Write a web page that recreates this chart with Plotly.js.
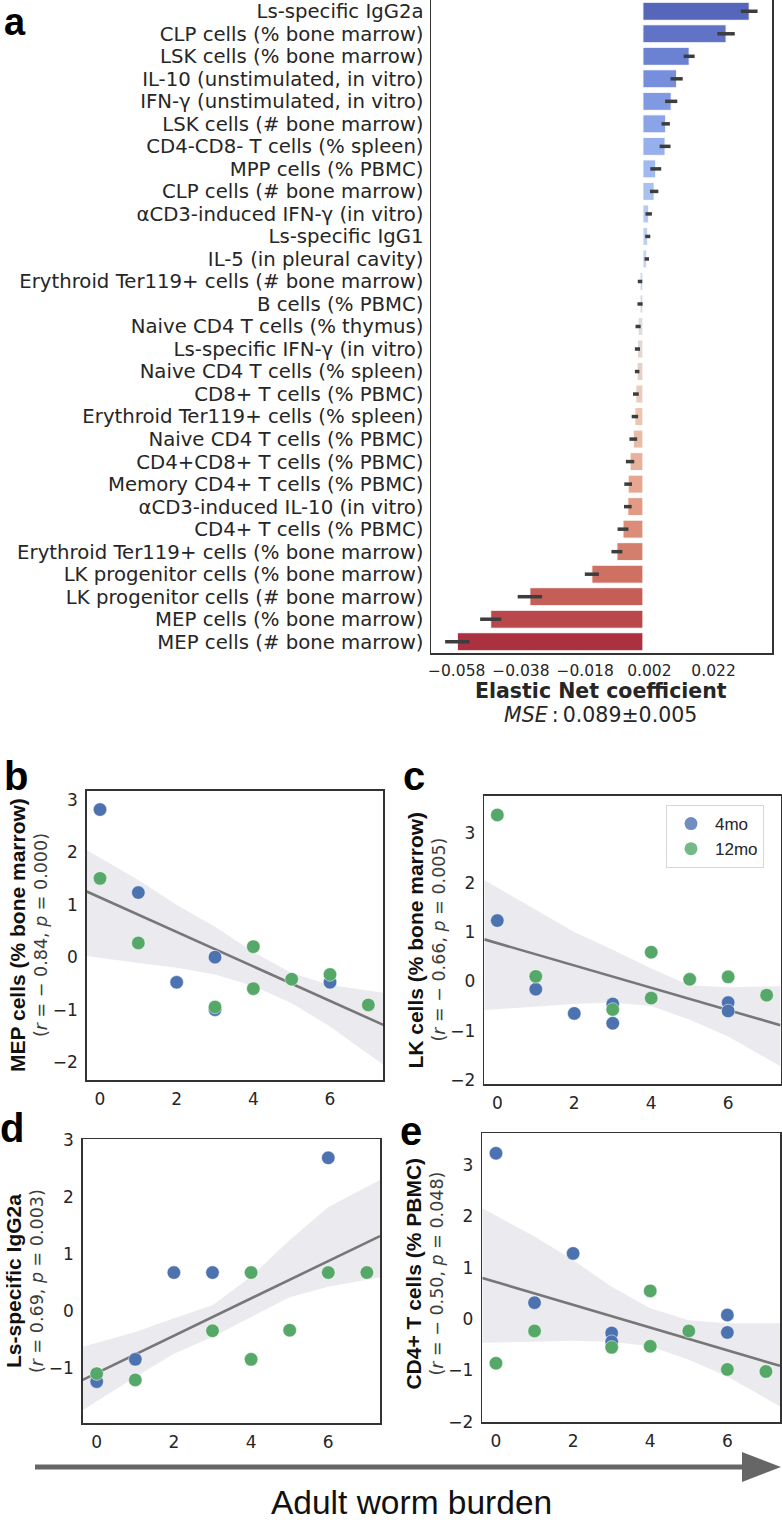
<!DOCTYPE html>
<html><head><meta charset="utf-8">
<script src="https://cdn.plot.ly/plotly-3.0.1.min.js"></script>
<style>html,body{margin:0;padding:0;background:#fff}</style>
</head><body><div id="chart" style="width:782px;height:1522px"></div>
<script>
// ---------- DATA ----------
const features = [
  "Ls-specific IgG2a","CLP cells (% bone marrow)","LSK cells (% bone marrow)",
  "IL-10 (unstimulated, in vitro)","IFN-γ (unstimulated, in vitro)","LSK cells (# bone marrow)",
  "CD4-CD8- T cells (% spleen)","MPP cells (% PBMC)","CLP cells (# bone marrow)",
  "αCD3-induced IFN-γ (in vitro)","Ls-specific IgG1","IL-5 (in pleural cavity)",
  "Erythroid Ter119+ cells (# bone marrow)","B cells (% PBMC)","Naive CD4 T cells (% thymus)",
  "Ls-specific IFN-γ (in vitro)","Naive CD4 T cells (% spleen)","CD8+ T cells (% PBMC)",
  "Erythroid Ter119+ cells (% spleen)","Naive CD4 T cells (% PBMC)","CD4+CD8+ T cells (% PBMC)",
  "Memory CD4+ T cells (% PBMC)","αCD3-induced IL-10 (in vitro)","CD4+ T cells (% PBMC)",
  "Erythroid Ter119+ cells (% bone marrow)","LK progenitor cells (% bone marrow)",
  "LK progenitor cells (# bone marrow)","MEP cells (% bone marrow)","MEP cells (# bone marrow)"
];
const coefficients = [
  0.0331,0.0259,0.0144,0.0105,0.0088,0.0071,0.0069,0.0040,0.0035,0.0018,0.0015,0.0012,
  -0.0009,-0.0009,-0.0015,-0.0017,-0.0018,-0.0022,-0.0025,-0.0030,-0.0040,-0.0046,-0.0047,
  -0.0062,-0.0081,-0.0159,-0.0352,-0.0474,-0.0578
];
const coefErrors = [
  0.0026,0.0027,0.0017,0.0019,0.0019,0.0013,0.0017,0.0017,0.0013,0.0010,0.0008,0.0007,
  0.0007,0.0008,0.0008,0.0008,0.0007,0.0009,0.0010,0.0012,0.0013,0.0012,0.0012,
  0.0017,0.0017,0.0022,0.0038,0.0033,0.0038
];
const coefTicks = [-0.058,-0.038,-0.018,0.002,0.022];
const coefTickText = ["−0.058","−0.038","−0.018","0.002","0.022"];

// panel b : MEP cells (% bone marrow)
const bX4 = [0,1,2,3,3,6];
const bY4 = [2.81,1.23,-0.48,0.0,-1.0,-0.48];
const bX12 = [0,1,3,4,4,5,6,7];
const bY12 = [1.50,0.27,-0.95,0.20,-0.60,-0.42,-0.33,-0.91];
const bLineX = [-0.347,7.39];
const bLineY = [1.25,-1.29];
const bBandX = [-0.347,1,2,3,4,5,6,7.39];
const bBandUp = [2.04,1.47,1.0,0.58,0.10,-0.30,-0.53,-0.68];
const bBandLo = [0.02,-0.11,-0.20,-0.33,-0.55,-0.88,-1.32,-2.05];

// panel c : LK cells (% bone marrow)
const cX4 = [0,1,2,3,3,6,6];
const cY4 = [1.23,-0.16,-0.65,-0.46,-0.85,-0.43,-0.60];
const cX12 = [0,1,3,4,4,5,6,7];
const cY12 = [3.37,0.10,-0.57,0.59,-0.34,0.04,0.09,-0.28];
const cLineX = [-0.338,7.36];
const cLineY = [0.85,-0.89];
const cBandX = [-0.338,1,2,3,4,5,6,7.36];
const cBandUp = [2.05,1.44,1.0,0.64,0.26,-0.08,-0.12,-0.10];
const cBandLo = [-0.58,-0.51,-0.46,-0.43,-0.50,-0.78,-1.12,-1.72];

// panel d : Ls-specific IgG2a
const dX4 = [0,1,2,3,6];
const dY4 = [-1.23,-0.84,0.68,0.68,2.69];
const dX12 = [0,1,3,4,4,5,6,7];
const dY12 = [-1.09,-1.20,-0.34,0.68,-0.84,-0.33,0.68,0.68];
const dLineX = [-0.363,7.34];
const dLineY = [-1.20,1.32];
const dBandX = [-0.363,1,2,3,4,5,6,7.34];
const dBandUp = [-0.62,-0.36,-0.12,0.11,0.61,1.25,1.83,2.30];
const dBandLo = [-1.73,-1.15,-0.74,-0.45,-0.10,0.25,0.43,0.60];

// panel e : CD4+ T cells (% PBMC)
const eX4 = [0,1,2,3,3,6,6];
const eY4 = [3.23,0.32,1.28,-0.27,-0.44,0.08,-0.26];
const eX12 = [0,1,3,4,4,5,6,7];
const eY12 = [-0.86,-0.23,-0.55,0.55,-0.53,-0.23,-0.98,-1.02];
const eLineX = [-0.355,7.365];
const eLineY = [0.80,-0.91];
const eBandX = [-0.355,1,2,3,4,5,6,7.365];
const eBandUp = [2.16,1.61,1.15,0.63,0.21,-0.02,-0.08,-0.08];
const eBandLo = [-0.46,-0.44,-0.42,-0.44,-0.53,-0.79,-1.12,-1.70];

const scatterXTicks = [0,2,4,6];
const scatterYTicks = [-2,-1,0,1,2,3];
const scatterYTickText = ["−2","−1","0","1","2","3"];
const groupNames = ["4mo","12mo"];

// ---------- STYLE / LAYOUT HELPERS ----------
const W = 782, H = 1522;
const px = x => x / W;
const py = y => 1 - y / H;
const DV = "DejaVu Sans";
const LS = "Liberation Sans, Arial, sans-serif";
const BLUE = "#4c72b0", GREEN = "#55a868";

// coolwarm palette (seaborn style: interior samples, desaturated 0.75)
const cwStops = [[59,76,192],[98,130,234],[141,176,254],[184,208,249],[221,221,221],
                 [245,196,173],[244,154,123],[222,96,77],[180,4,38]];
function coolwarm(t){
  const n = cwStops.length - 1, f = t * n;
  const i = Math.min(Math.floor(f), n - 1), u = f - i;
  return cwStops[i].map((c,k) => c + (cwStops[i+1][k] - c) * u);
}
function desaturate(rgb, p){
  let [r,g,b] = rgb.map(v => v/255);
  const mx = Math.max(r,g,b), mn = Math.min(r,g,b), l = (mx+mn)/2;
  let h = 0, s = 0;
  if (mx !== mn){
    const d = mx - mn;
    s = l > 0.5 ? d/(2-mx-mn) : d/(mx+mn);
    if (mx === r) h = ((g-b)/d + (g<b?6:0));
    else if (mx === g) h = (b-r)/d + 2;
    else h = (r-g)/d + 4;
    h /= 6;
  }
  s *= p;
  const hue2 = (pp,q,t) => { if(t<0)t+=1; if(t>1)t-=1; if(t<1/6)return pp+(q-pp)*6*t; if(t<1/2)return q; if(t<2/3)return pp+(q-pp)*(2/3-t)*6; return pp; };
  let R,G,B;
  if (s === 0){ R=G=B=l; }
  else {
    const q = l < 0.5 ? l*(1+s) : l+s-l*s, pp = 2*l-q;
    R = hue2(pp,q,h+1/3); G = hue2(pp,q,h); B = hue2(pp,q,h-1/3);
  }
  return `rgb(${Math.round(R*255)},${Math.round(G*255)},${Math.round(B*255)})`;
}
const nBars = features.length;
const barColors = features.map((_,i) => desaturate(coolwarm((i+1)/(nBars+1)), 0.75));

// ---------- TRACES ----------
const traces = [];
traces.push({
  type: "bar", orientation: "h", x: coefficients, y: features,
  xaxis: "x", yaxis: "y", width: 0.8,
  marker: {color: barColors, line: {color: "white", width: 1}},
  error_x: {type: "data", array: coefErrors, visible: true, color: "#3d3d3d", thickness: 3.5, width: 0},
  showlegend: false, hoverinfo: "x+y"
});

const panels = [
  {ax: "2", x4: bX4, y4: bY4, x12: bX12, y12: bY12, lx: bLineX, ly: bLineY, bx: bBandX, bu: bBandUp, bl: bBandLo},
  {ax: "3", x4: cX4, y4: cY4, x12: cX12, y12: cY12, lx: cLineX, ly: cLineY, bx: cBandX, bu: cBandUp, bl: cBandLo},
  {ax: "4", x4: dX4, y4: dY4, x12: dX12, y12: dY12, lx: dLineX, ly: dLineY, bx: dBandX, bu: dBandUp, bl: dBandLo},
  {ax: "5", x4: eX4, y4: eY4, x12: eX12, y12: eY12, lx: eLineX, ly: eLineY, bx: eBandX, bu: eBandUp, bl: eBandLo}
];
panels.forEach(p => {
  const xa = "x" + p.ax, ya = "y" + p.ax;
  traces.push({
    type: "scatter", mode: "lines", xaxis: xa, yaxis: ya,
    x: p.bx.concat(p.bx.slice().reverse()), y: p.bu.concat(p.bl.slice().reverse()),
    fill: "toself", fillcolor: "#ebebef", line: {width: 0, color: "rgba(0,0,0,0)"},
    showlegend: false, hoverinfo: "skip"
  });
  traces.push({
    type: "scatter", mode: "lines", xaxis: xa, yaxis: ya, x: p.lx, y: p.ly,
    line: {color: "#777777", width: 2.6}, showlegend: false, hoverinfo: "skip"
  });
  traces.push({
    type: "scatter", mode: "markers", xaxis: xa, yaxis: ya, x: p.x4, y: p.y4, name: groupNames[0],
    marker: {color: BLUE, size: 13.5, line: {color: "white", width: 0.5}}, showlegend: false
  });
  traces.push({
    type: "scatter", mode: "markers", xaxis: xa, yaxis: ya, x: p.x12, y: p.y12, name: groupNames[1],
    marker: {color: GREEN, size: 13.5, line: {color: "white", width: 0.5}}, showlegend: false
  });
});
// legend entries (shown inside panel c)
traces.push({type: "scatter", mode: "markers", xaxis: "x3", yaxis: "y3", x: [null], y: [null],
  name: groupNames[0], marker: {color: "rgba(76,114,176,0.8)", size: 13}, showlegend: true});
traces.push({type: "scatter", mode: "markers", xaxis: "x3", yaxis: "y3", x: [null], y: [null],
  name: groupNames[1], marker: {color: "rgba(85,168,104,0.8)", size: 13}, showlegend: true});

// ---------- AXES ----------
const spine = {showline: true, mirror: true, linecolor: "#333333", linewidth: 1.5,
               showgrid: false, zeroline: false};
const layout = {
  width: W, height: H, margin: {l: 0, r: 0, t: 0, b: 0},
  paper_bgcolor: "white", plot_bgcolor: "white",
  font: {family: DV, color: "#262626"},
  showlegend: true,
  legend: {x: px(666), y: py(805), xanchor: "left", yanchor: "top",
           bgcolor: "white", bordercolor: "#d6d6d6", borderwidth: 1,
           font: {family: LS, size: 17, color: "#262626"}, itemwidth: 38},
  xaxis: Object.assign({}, spine, {
    domain: [px(431), px(772)], range: [-0.066, 0.0402], anchor: "y",
    tickvals: coefTicks, ticktext: coefTickText, tickfont: {family: DV, size: 15.5, color: "#262626"},
    ticks: "outside", ticklen: 3, tickcolor: "rgba(0,0,0,0)"
  }),
  yaxis: Object.assign({}, spine, {
    domain: [py(653), 1], anchor: "x", type: "category",
    categoryorder: "array", categoryarray: features, range: [nBars - 0.5, -0.5],
    tickmode: "array", tickvals: features, ticktext: features,
    tickfont: {family: DV, size: 19.7, color: "#262626"}, ticks: "outside", ticklen: 2, tickcolor: "rgba(0,0,0,0)"
  }),
  annotations: [], shapes: []
};
const scatterBoxes = [
  {ax: "2", l: 86.7, r: 383.3, t: 790.7, b: 1080, xr: [-0.347, 7.39], yr: [-2.34, 3.17]},
  {ax: "3", l: 484.3, r: 780.5, t: 795.7, b: 1084, xr: [-0.338, 7.36], yr: [-2.08, 3.76]},
  {ax: "4", l: 82.7, r: 380, t: 1139, b: 1423.3, xr: [-0.363, 7.34], yr: [-1.96, 3.02]},
  {ax: "5", l: 482.3, r: 780, t: 1133.3, b: 1422.3, xr: [-0.355, 7.365], yr: [-2.01, 3.62]}
];
scatterBoxes.forEach(s => {
  layout["xaxis" + s.ax] = Object.assign({}, spine, {
    domain: [px(s.l), px(s.r)], range: s.xr, anchor: "y" + s.ax,
    tickvals: scatterXTicks, tickfont: {family: DV, size: 17, color: "#262626"},
    ticks: "outside", ticklen: 3, tickcolor: "rgba(0,0,0,0)"
  });
  layout["yaxis" + s.ax] = Object.assign({}, spine, {
    domain: [py(s.b), py(s.t)], range: s.yr, anchor: "x" + s.ax,
    tickvals: scatterYTicks, ticktext: scatterYTickText, tickfont: {family: DV, size: 17, color: "#262626"},
    ticks: "outside", ticklen: 4, tickcolor: "rgba(0,0,0,0)"
  });
});

// ---------- TEXT ----------
function ann(text, x, y, opts){
  layout.annotations.push(Object.assign({text: text, x: px(x), y: py(y), xref: "paper", yref: "paper",
    showarrow: false, xanchor: "center", yanchor: "middle"}, opts || {}));
}
ann("<b>Elastic Net coefficient</b>", 601, 691, {font: {family: DV, size: 20.5, color: "#262626"}});
ann("<i>MSE</i>\u2009:\u20090.089±0.005", 600, 715, {font: {family: DV, size: 20.5, color: "#262626"}});

const yTitles = [
  {t: "MEP cells (% bone marrow)", s: "(<i>r</i> = − 0.84, <i>p</i> = 0.000)", x1: 17, x2: 41, y: 935},
  {t: "LK cells (% bone marrow)", s: "(<i>r</i> = − 0.66, <i>p</i> = 0.005)", x1: 414.6, x2: 438.6, y: 940},
  {t: "Ls-specific IgG2a", s: "(<i>r</i> = 0.69, <i>p</i> = 0.003)", x1: 13, x2: 37, y: 1281},
  {t: "CD4+ T cells (% PBMC)", s: "(<i>r</i> = − 0.50, <i>p</i> = 0.048)", x1: 412.6, x2: 436.6, y: 1274}
];
yTitles.forEach(o => {
  ann("<b>" + o.t + "</b>", o.x1, o.y, {textangle: -90, font: {family: LS, size: 21, color: "#111111"}});
  ann(o.s, o.x2, o.y, {textangle: -90, font: {family: DV, size: 17.5, color: "#3c3c3c"}});
});

// panel letters
layout.annotations.push({text: "<b>a</b>", x: px(14.5), y: 1, xref: "paper", yref: "paper",
  showarrow: false, xanchor: "center", yanchor: "top", borderpad: 0, font: {family: LS, size: 38, color: "#000"}});
const letters = [["b",16,776],["c",414,776],["d",11.5,1128],["e",411,1131]];
letters.forEach(l => ann("<b>" + l[0] + "</b>", l[1], l[2], {font: {family: LS, size: 40, color: "#000"}}));

layout.annotations.push({text: "Adult worm burden", x: px(411), y: 0, xref: "paper", yref: "paper",
  showarrow: false, xanchor: "center", yanchor: "bottom", borderpad: 0,
  font: {family: LS, size: 33.5, color: "#111111"}});

// arrow
layout.shapes.push({type: "line", xref: "paper", yref: "paper",
  x0: px(35), y0: py(1467), x1: px(745), y1: py(1467), line: {color: "#666666", width: 5}});
layout.shapes.push({type: "path", xref: "paper", yref: "paper",
  path: `M ${px(742)} ${py(1452)} L ${px(781)} ${py(1467)} L ${px(742)} ${py(1482)} Z`,
  fillcolor: "#666666", line: {width: 0}});

Plotly.newPlot("chart", traces, layout, {displayModeBar: false, staticPlot: true});
</script></body></html>
